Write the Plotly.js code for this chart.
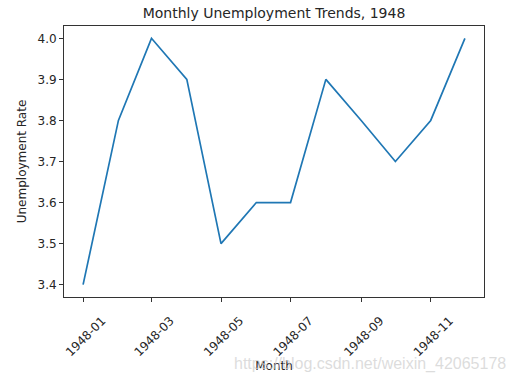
<!DOCTYPE html>
<html>
<head>
<meta charset="utf-8">
<script src="https://cdn.plot.ly/plotly-3.0.1.min.js"></script>
<style>html,body{margin:0;padding:0;background:#fff;}#chart{width:518px;height:375px;}</style>
</head>
<body>
<div id="chart"></div>
<script>
const months = ['1948-01-01','1948-02-01','1948-03-01','1948-04-01','1948-05-01','1948-06-01',
                '1948-07-01','1948-08-01','1948-09-01','1948-10-01','1948-11-01','1948-12-01'];
const rates = [3.4, 3.8, 4.0, 3.9, 3.5, 3.6, 3.6, 3.9, 3.8, 3.7, 3.8, 4.0];
const xTickVals = ['1948-01-01','1948-03-01','1948-05-01','1948-07-01','1948-09-01','1948-11-01'];
const xTickText = ['1948-01','1948-03','1948-05','1948-07','1948-09','1948-11'];
const yTickVals = [3.4, 3.5, 3.6, 3.7, 3.8, 3.9, 4.0];
const yTickText = ['3.4','3.5','3.6','3.7','3.8','3.9','4.0'];

const font = 'DejaVu Sans, sans-serif';
const data = [{
  x: months, y: rates, type: 'scatter', mode: 'lines',
  line: {color: '#1f77b4', width: 1.7}, hoverinfo: 'skip'
}];
const layout = {
  width: 518, height: 375,
  margin: {l: 64, r: 34, t: 26, b: 78},
  paper_bgcolor: '#fff', plot_bgcolor: '#fff',
  showlegend: false,
  font: {family: font, color: '#262626', size: 12},
  title: {text: 'Monthly Unemployment Trends, 1948', font: {family: font, size: 14, color: '#262626'},
          x: 0.5, xref: 'paper', xanchor: 'center', y: 0.965, yref: 'container', yanchor: 'middle', automargin: false},
  xaxis: {
    type: 'date',
    range: ['1947-12-15 06:00', '1948-12-17 18:00'],
    tickvals: xTickVals, ticktext: xTickText,
    tickangle: -45, ticks: 'outside', ticklen: 4, tickwidth: 1, tickcolor: '#333',
    ticklabelshift: 19, ticklabelstandoff: 7,
    showgrid: false, zeroline: false,
    showline: true, linecolor: '#333', linewidth: 1, mirror: true,
    tickfont: {family: font, size: 12, color: '#262626'},
    title: {text: 'Month', font: {family: font, size: 12, color: '#262626'}, standoff: 0}
  },
  yaxis: {
    range: [3.37, 4.03],
    tickvals: yTickVals, ticktext: yTickText,
    ticks: 'outside', ticklen: 4, tickwidth: 1, tickcolor: '#333',
    showgrid: false, zeroline: false,
    showline: true, linecolor: '#333', linewidth: 1, mirror: true,
    tickfont: {family: font, size: 12, color: '#262626'},
    title: {text: 'Unemployment Rate', font: {family: font, size: 12, color: '#262626'}, standoff: 8}
  },
  annotations: [{
    text: 'https://blog.csdn.net/weixin_42065178', xref: 'paper', yref: 'paper',
    x: 1.057, y: -0.247, xanchor: 'right', yanchor: 'middle', showarrow: false,
    font: {family: 'Liberation Sans, Arial, sans-serif', size: 16, color: 'rgba(205,205,205,0.7)'}
  }]
};
Plotly.newPlot('chart', data, layout, {staticPlot: true, displayModeBar: false});
</script>
</body>
</html>
